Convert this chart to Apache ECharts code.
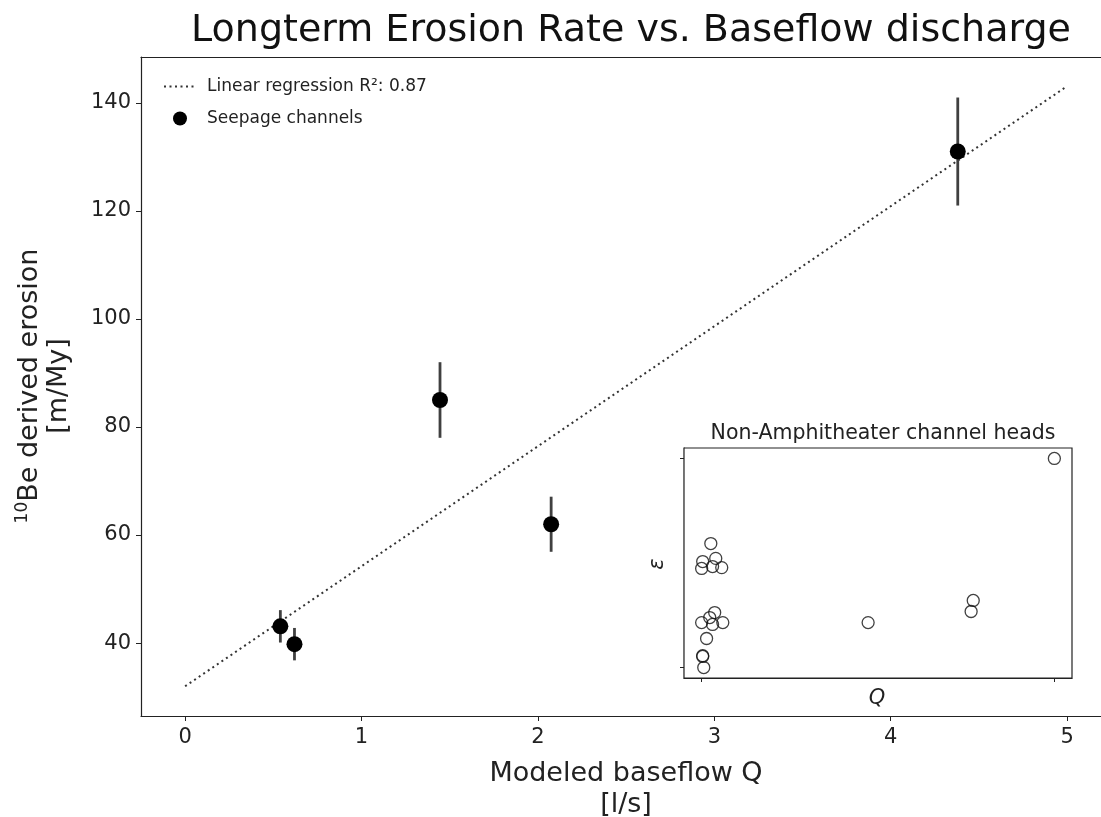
<!DOCTYPE html>
<html>
<head>
<meta charset="utf-8">
<script src="https://cdn.jsdelivr.net/npm/echarts@6/dist/echarts.min.js"></script>
<style>
html,body{margin:0;padding:0;background:#fff;}
#c{width:1101px;height:817px;}
</style>
</head>
<body>
<div id="c"></div>
<script>
// ---- data ----
const seepageQ = [0.54, 0.62, 1.445, 2.075, 4.38];
const seepageE = [43.1, 39.8, 85.0, 62.0, 131.0];
const seepageErr = [3.0, 3.0, 7.0, 5.1, 10.0];
const regX = [0, 5];
const regY = [32.0, 143.1];
const xTicks = [0, 1, 2, 3, 4, 5];
const yTicks = [40, 60, 80, 100, 120, 140];
// inset (normalized units, ticks at min/max)
const insetQ = [1.0, 0.026, 0.003, 0.040, 0.0, 0.031, 0.057, 0.037, 0.023, 0.0, 0.031, 0.060, 0.014, 0.003, 0.003, 0.006, 0.472, 0.770, 0.764];
const insetE = [1.0, 0.593, 0.507, 0.522, 0.474, 0.483, 0.478, 0.263, 0.239, 0.215, 0.206, 0.215, 0.139, 0.057, 0.053, 0.0, 0.215, 0.321, 0.268];
const insetTicks = [0, 1];

const FONT = 'DejaVu Sans';
const chart = echarts.init(document.getElementById('c'), null, {renderer: 'canvas'});

const seepageData = seepageQ.map((q, i) => [q, seepageE[i]]);
const errData = seepageQ.map((q, i) => [q, seepageE[i] - seepageErr[i], seepageE[i] + seepageErr[i]]);
const regData = regX.map((x, i) => [x, regY[i]]);
const insetData = insetQ.map((q, i) => [q, insetE[i]]);

const axisLineStyle = {color: '#222', width: 1.2};
const REG_NAME = 'Linear regression R\u00b2: 0.87';

chart.setOption({
  animation: false,
  backgroundColor: '#fff',
  textStyle: {fontFamily: FONT},
  title: [{
    text: 'Longterm Erosion Rate vs. Baseflow discharge',
    left: 626, top: 7, textAlign: 'center',
    textStyle: {fontFamily: FONT, fontSize: 38, fontWeight: 'normal', color: '#111'}
  }, {
    text: 'Non-Amphitheater channel heads',
    left: 878, top: 418, textAlign: 'center',
    textStyle: {fontFamily: FONT, fontSize: 20.5, fontWeight: 'normal', color: '#222'}
  }],
  legend: {
    orient: 'vertical', left: 158, top: 73, itemWidth: 32, itemHeight: 14, itemGap: 15,
    textStyle: {fontFamily: FONT, fontSize: 17, color: '#222', padding: [0, 0, 0, 6]},
    data: [
      {name: REG_NAME, itemStyle: {color: 'rgba(0,0,0,0)', opacity: 0, borderWidth: 0}},
      {name: 'Seepage channels', icon: 'circle'}
    ]
  },
  grid: [
    {left: 141, top: 57, width: 960, height: 659, show: false, containLabel: false},
    {left: 684, top: 448, width: 388, height: 230, show: true, borderColor: '#222', borderWidth: 1.2, backgroundColor: '#fff', z: 5}
  ],
  xAxis: [{
    gridIndex: 0, type: 'value', min: -0.25, max: 5.192,
    axisLine: {show: true, onZero: false, lineStyle: axisLineStyle},
    axisTick: {show: true, length: 5, lineStyle: {color: '#222'}, customValues: xTicks},
    axisLabel: {show: true, fontFamily: FONT, fontSize: 21, color: '#222', margin: 11, customValues: xTicks},
    splitLine: {show: false}
  }, {
    gridIndex: 1, type: 'value', min: -0.05, max: 1.05,
    axisLine: {show: true, onZero: false, lineStyle: axisLineStyle},
    axisTick: {show: true, length: 4, lineStyle: {color: '#222'}, customValues: insetTicks},
    axisLabel: {show: false},
    splitLine: {show: false}
  }, {
    gridIndex: 0, type: 'value', position: 'top', min: -0.25, max: 5.192,
    axisLine: {show: true, onZero: false, lineStyle: axisLineStyle},
    axisTick: {show: false}, axisLabel: {show: false}, splitLine: {show: false}
  }],
  yAxis: [{
    gridIndex: 0, type: 'value', min: 26.5, max: 148.5,
    axisLine: {show: true, onZero: false, lineStyle: axisLineStyle},
    axisTick: {show: true, length: 5, lineStyle: {color: '#222'}, customValues: yTicks},
    axisLabel: {show: true, fontFamily: FONT, fontSize: 21, color: '#222', margin: 10, customValues: yTicks},
    splitLine: {show: false}
  }, {
    gridIndex: 1, type: 'value', min: -0.05, max: 1.05,
    axisLine: {show: true, onZero: false, lineStyle: axisLineStyle},
    axisTick: {show: true, length: 4, lineStyle: {color: '#222'}, customValues: insetTicks},
    axisLabel: {show: false},
    splitLine: {show: false}
  }],
  graphic: [{
    type: 'text', x: 44, y: 386, rotation: Math.PI / 2, z: 10,
    style: {
      text: '{s|10}{n|Be derived erosion}\n{n|[m/My]}',
      align: 'center', verticalAlign: 'middle', fill: '#222',
      rich: {
        s: {fontFamily: FONT, fontSize: 17, fill: '#222', padding: [0, 0, 13, 0]},
        n: {fontFamily: FONT, fontSize: 27, fill: '#222', lineHeight: 29}
      }
    }
  }, {
    type: 'text', x: 626, y: 789, z: 10,
    style: {
      text: 'Modeled baseflow Q\n[l/s]',
      align: 'center', verticalAlign: 'middle', fill: '#222',
      font: '27px "DejaVu Sans"', lineHeight: 31
    }
  }, {
    type: 'text', x: 658, y: 564, rotation: Math.PI / 2, z: 10,
    style: {text: '\u03b5', align: 'center', verticalAlign: 'middle', fill: '#222', font: 'italic 21px "DejaVu Sans"'}
  }, {
    type: 'text', x: 877, y: 699, z: 10,
    style: {text: 'Q', align: 'center', verticalAlign: 'middle', fill: '#222', font: 'italic 21px "DejaVu Sans"'}
  }],
  series: [{
    name: REG_NAME,
    type: 'line', xAxisIndex: 0, yAxisIndex: 0,
    data: regData, symbol: 'none', showSymbol: false,
    lineStyle: {color: '#333', width: 2, type: [2, 3.5]},
    z: 2
  }, {
    name: 'errorbars', type: 'custom', xAxisIndex: 0, yAxisIndex: 0,
    data: errData,
    renderItem: function (params, api) {
      const p1 = api.coord([api.value(0), api.value(1)]);
      const p2 = api.coord([api.value(0), api.value(2)]);
      return {type: 'line', shape: {x1: p1[0], y1: p1[1], x2: p2[0], y2: p2[1]},
              style: {stroke: '#404040', lineWidth: 2.8}};
    },
    z: 3
  }, {
    name: 'Seepage channels', type: 'scatter', xAxisIndex: 0, yAxisIndex: 0,
    data: seepageData, symbol: 'circle', symbolSize: 16,
    itemStyle: {color: '#000', opacity: 1},
    z: 4
  }, {
    name: 'inset', type: 'scatter', xAxisIndex: 1, yAxisIndex: 1,
    data: insetData, symbol: 'circle', symbolSize: 12,
    itemStyle: {color: 'rgba(0,0,0,0)', borderColor: '#111', borderWidth: 1.3},
    z: 6
  }]
});
</script>
</body>
</html>
